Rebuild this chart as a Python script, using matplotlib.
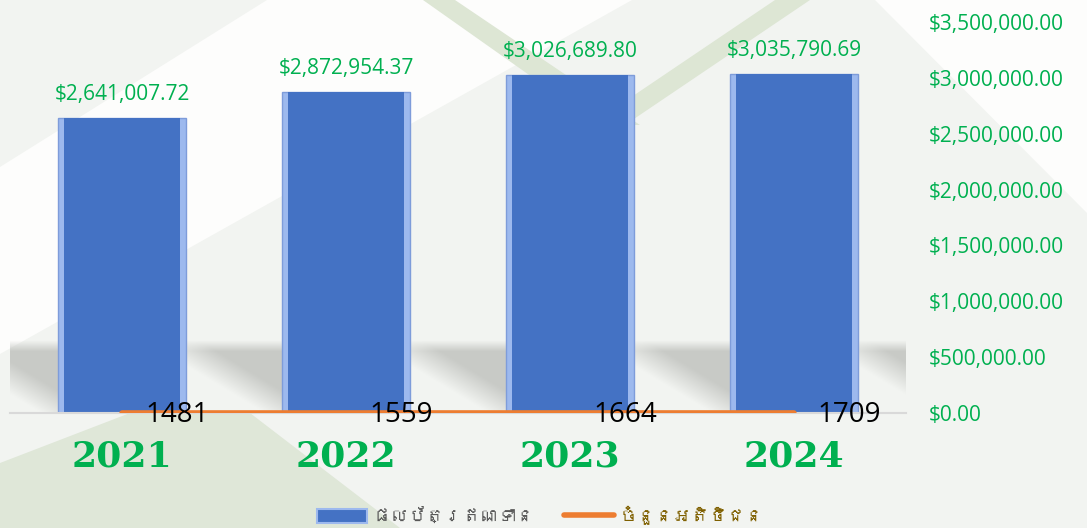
import numpy as np
import matplotlib.pyplot as plt
from matplotlib import font_manager
from matplotlib.ft2font import FT2Font
from matplotlib.patches import Polygon, Patch
from matplotlib.lines import Line2D
from matplotlib.ticker import FuncFormatter

years = ["2021", "2022", "2023", "2024"]
portfolio = [2641007.72, 2872954.37, 3026689.80, 3035790.69]
customers = [1481, 1559, 1664, 1709]
legend_labels = ["ផលប័ត្រឥណទាន", "ចំនួនអតិថិជន"]

W, H = 1087, 528
GREEN = "#00B050"
BLUE = "#4472C4"
ORANGE = "#ED7D31"


def find_khmer_family():
    # look for any installed font that actually has Khmer glyphs
    for f in font_manager.fontManager.ttflist:
        try:
            cmap = FT2Font(f.fname).get_charmap()
        except Exception:
            continue
        if 0x1795 in cmap and 0x1780 in cmap:
            return f.name
    return None


khmer = find_khmer_family()
legend_family = ([khmer] if khmer else []) + ["Noto Sans", "DejaVu Sans"]

fig = plt.figure(figsize=(W / 100, H / 100), dpi=100, facecolor="#F2F4F1")


def px(pts):
    # pixel coords (from top-left) -> figure fraction
    return [(x / W, 1 - y / H) for x, y in pts]


# background decoration
bg_shapes = [
    ([(0, 167), (267, 0), (632, 0), (0, 354)], "#FDFDFC"),
    ([(875, 0), (1087, 0), (1087, 213)], "#FDFDFC"),
    ([(423, 0), (455, 0), (640, 125), (600, 125)], "#DDE6D4"),
    ([(775, 0), (810, 0), (625, 125), (590, 125)], "#DDE6D4"),
    ([(0, 528), (0, 463), (130, 413), (250, 413), (400, 528)], "#DFE7D8"),
]
for pts, col in bg_shapes:
    fig.add_artist(Polygon(px(pts), closed=True, transform=fig.transFigure,
                           facecolor=col, edgecolor="none", zorder=-10))

ax = fig.add_axes([10 / W, 115 / H, 896 / W, 391 / H])
ax.set_facecolor("none")

x = np.arange(len(years))

# soft shadow band behind the bars
nx, ny = 600, 80
xf = np.linspace(0, 1, nx)
tf = np.linspace(0, 1, ny)[:, None]
phase = ((-0.5 + 4 * xf) + 0.5) % 1.0
u = ((phase - 0.786) % 1.0) / 0.428
u = np.clip(u, 0, 1)[None, :]
dark = np.clip((0.35 + 0.8 * u - tf) / 0.45, 0, 1)
ramp = np.clip(tf / 0.15, 0, 1)
alpha = 0.85 * dark * ramp
rgba = np.zeros((ny, nx, 4))
rgba[..., 0] = 0.76
rgba[..., 1] = 0.765
rgba[..., 2] = 0.75
rgba[..., 3] = alpha
ax.imshow(rgba, extent=[0, 1, 0.0, 0.185], transform=ax.transAxes,
          aspect="auto", zorder=0.5, interpolation="bilinear")

# beveled bars
ax.bar(x, portfolio, width=0.57, color="#9DB9EE", edgecolor="#7E9CDA",
       linewidth=1, zorder=2)
ax.bar(x, portfolio, width=0.515, color=BLUE, linewidth=0, zorder=2.5)

ax.plot(x, customers, color=ORANGE, linewidth=3.8, solid_capstyle="round",
        zorder=3)

for i, v in enumerate(portfolio):
    ax.annotate(f"${v:,.2f}", (x[i], v), xytext=(0, 17), textcoords="offset points",
                ha="center", va="center", fontsize=15, color=GREEN,
                family="Open Sans", zorder=4)

for i, c in enumerate(customers):
    ax.annotate(str(c), (x[i], c), xytext=(40, -1.5), textcoords="offset points",
                ha="center", va="center", fontsize=20, color="black",
                family="Open Sans", zorder=4)

ax.set_xlim(-0.5, len(years) - 0.5)
ax.set_ylim(0, 3500000)
ax.set_yticks(np.arange(0, 3500001, 500000))
ax.yaxis.tick_right()
ax.yaxis.set_major_formatter(FuncFormatter(lambda v, p: f"${v:,.2f}"))
ax.tick_params(axis="y", length=0, pad=16.5, labelsize=15, labelcolor=GREEN)
for lab in ax.get_yticklabels():
    lab.set_family("Open Sans")

ax.set_xticks(x)
ax.set_xticklabels(years, fontsize=26, fontweight="heavy", family="DejaVu Serif",
                   color=GREEN)
ax.tick_params(axis="x", length=0, pad=19)

for s in ["top", "left", "right"]:
    ax.spines[s].set_visible(False)
ax.spines["bottom"].set_color("#D9D9D9")
ax.spines["bottom"].set_linewidth(1.5)

handles = [
    Patch(facecolor=BLUE, edgecolor="#9DB9EE", linewidth=1.5),
    Line2D([0], [0], color=ORANGE, linewidth=4, solid_capstyle="round"),
]
leg = fig.legend(handles, legend_labels, loc="center", bbox_to_anchor=(0.497, 0.024),
                 ncol=2, frameon=False, handlelength=2.8,
                 handleheight=0.8, handletextpad=0.3, columnspacing=1.6,
                 prop={"family": legend_family, "size": 13})
leg.get_texts()[0].set_color("#595959")
leg.get_texts()[1].set_color("#7F6000")

fig.savefig("out.png", dpi=100, facecolor=fig.get_facecolor())
